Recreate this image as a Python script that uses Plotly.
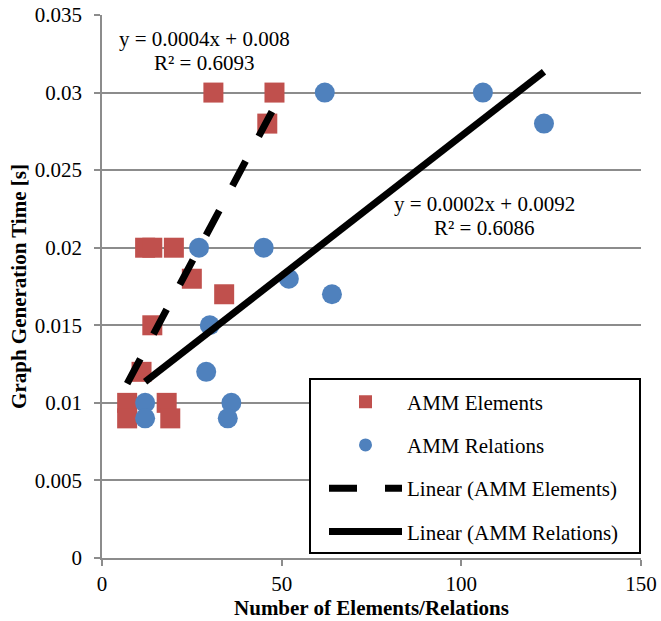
import plotly.graph_objects as go

# ---- data ----
elem_x = [31, 48, 46, 12, 14, 20, 25, 34, 14, 11, 7, 7, 18, 19]
elem_y = [0.03, 0.03, 0.028, 0.02, 0.02, 0.02, 0.018, 0.017, 0.015, 0.012, 0.01, 0.009, 0.01, 0.009]

rel_x = [62, 106, 123, 27, 45, 52, 64, 30, 29, 12, 12, 36, 35]
rel_y = [0.03, 0.03, 0.028, 0.02, 0.02, 0.018, 0.017, 0.015, 0.012, 0.01, 0.009, 0.01, 0.009]

# trendline coefficients (slope, intercept) as drawn in the reference
elem_fit = [0.000435, 0.0082]
rel_fit = [0.00018, 0.0092]

x_ticks = [0, 50, 100, 150]
y_ticks = [0, 0.005, 0.01, 0.015, 0.02, 0.025, 0.03, 0.035]
y_ticktext = ["0", "0.005", "0.01", "0.015", "0.02", "0.025", "0.03", "0.035"]

eq_elem = ["y = 0.0004x + 0.008", "R² = 0.6093"]
eq_rel = ["y = 0.0002x + 0.0092", "R² = 0.6086"]

FONT = "Liberation Serif, Times New Roman, serif"
RED = "#C0504D"
BLUE = "#4F81BD"
GRID = "#8c8c8c"

def line_pts(xs, fit):
    x0, x1 = min(xs), max(xs)
    return [x0, x1], [fit[0] * x0 + fit[1], fit[0] * x1 + fit[1]]

fig = go.Figure()
# data markers (legend shown through smaller proxy entries below)
fig.add_trace(go.Scatter(x=elem_x, y=elem_y, mode="markers", name="AMM Elements",
                         showlegend=False,
                         marker=dict(symbol="square", size=20, color=RED)))
fig.add_trace(go.Scatter(x=rel_x, y=rel_y, mode="markers", name="AMM Relations",
                         showlegend=False,
                         marker=dict(symbol="circle", size=20, color=BLUE)))
ex, ey = line_pts(elem_x, elem_fit)
fig.add_trace(go.Scatter(x=ex, y=ey, mode="lines", name="Linear (AMM Elements)",
                         legendgroup="c", legendrank=3,
                         line=dict(color="black", width=7, dash="28px,28px")))
rx, ry = line_pts(rel_x, rel_fit)
fig.add_trace(go.Scatter(x=rx, y=ry, mode="lines", name="Linear (AMM Relations)",
                         legendgroup="d", legendrank=4,
                         line=dict(color="black", width=7)))
# legend entries for the marker series
fig.add_trace(go.Scatter(x=[None], y=[None], mode="markers", name="AMM Elements",
                         legendgroup="a", legendrank=1,
                         marker=dict(symbol="square", size=13, color=RED)))
fig.add_trace(go.Scatter(x=[None], y=[None], mode="markers", name="AMM Relations",
                         legendgroup="b", legendrank=2,
                         marker=dict(symbol="circle", size=13, color=BLUE)))

L, R, T, B = 102, 20, 15, 63
W, H = 661, 621
pw, ph = W - L - R, H - T - B

def px(xp):
    return (xp - L) / pw

def py(yp):
    return (H - B - yp) / ph

annots = [
    dict(text=eq_elem[0], x=px(204), y=py(39)),
    dict(text=eq_elem[1], x=px(204), y=py(63)),
    dict(text=eq_rel[0], x=px(484), y=py(204)),
    dict(text=eq_rel[1], x=px(484), y=py(228)),
]
for a in annots:
    a.update(xref="paper", yref="paper", showarrow=False, xanchor="center", yanchor="middle",
             font=dict(family=FONT, size=21, color="black"))

fig.update_layout(
    template="none",
    width=W, height=H,
    margin=dict(l=L, r=R, t=T, b=B),
    paper_bgcolor="white", plot_bgcolor="white",
    font=dict(family=FONT, size=21, color="black"),
    showlegend=True,
    legend=dict(x=px(324), y=py(381.5), xanchor="left", yanchor="top",
                bgcolor="rgba(0,0,0,0)", borderwidth=0,
                font=dict(family=FONT, size=21, color="black"),
                itemwidth=73, tracegroupgap=13, itemsizing="trace",
                traceorder="grouped"),
    annotations=annots,
    shapes=[dict(type="rect", xref="paper", yref="paper",
                 x0=px(310), x1=px(640), y0=py(553), y1=py(379),
                 line=dict(color="black", width=2), fillcolor="white", layer="above")],
    xaxis=dict(range=[0, 150], tickvals=x_ticks, showgrid=False, zeroline=False,
               automargin=False,
               showline=True, linecolor=GRID, linewidth=1.5,
               ticks="outside", ticklen=6, tickcolor=GRID, tickwidth=1.5,
               tickfont=dict(family=FONT, size=21),
               title=dict(text="<b>Number of Elements/Relations</b>",
                          font=dict(family=FONT, size=21), standoff=4)),
    yaxis=dict(range=[0, 0.035], tickvals=y_ticks, ticktext=y_ticktext,
               automargin=False,
               showgrid=True, gridcolor=GRID, gridwidth=1.5, zeroline=False,
               showline=True, linecolor=GRID, linewidth=1.5,
               ticks="outside", ticklen=6, tickcolor=GRID, tickwidth=1.5,
               ticklabelstandoff=8,
               tickfont=dict(family=FONT, size=21),
               title=dict(text="<b>Graph Generation Time [s]</b>",
                          font=dict(family=FONT, size=21), standoff=2)),
)

fig.write_html("out.html")
